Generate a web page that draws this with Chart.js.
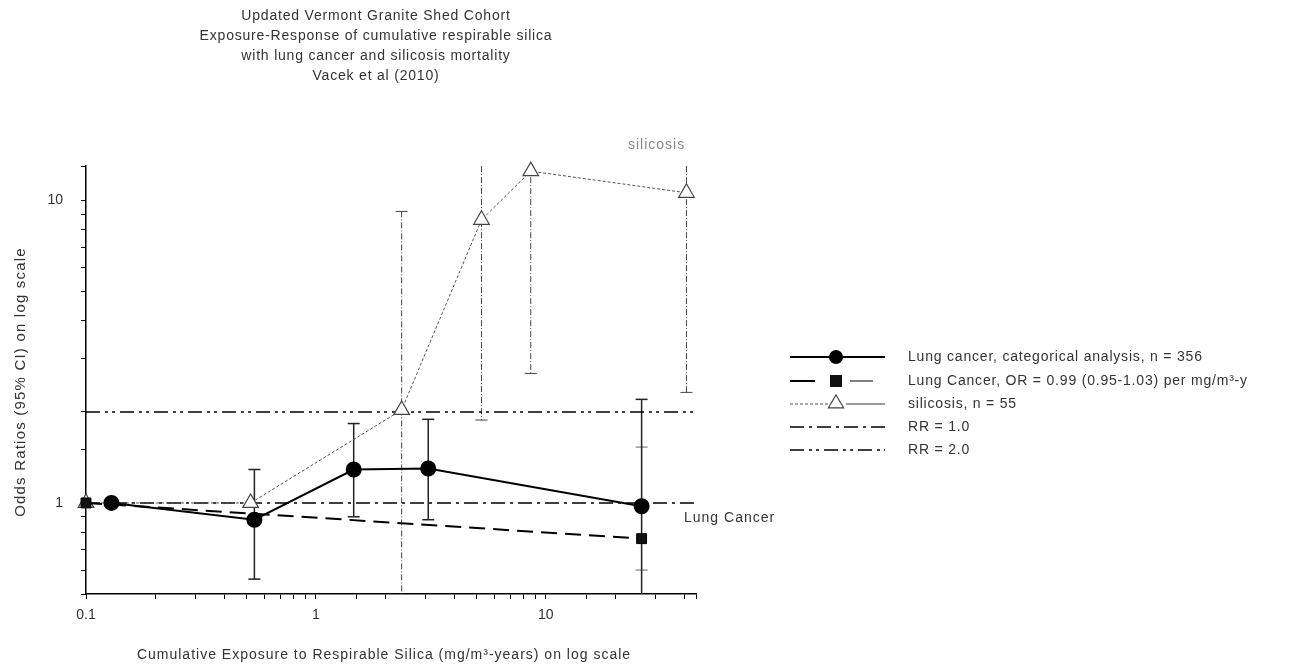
<!DOCTYPE html>
<html>
<head>
<meta charset="utf-8">
<script src="https://cdn.jsdelivr.net/npm/chart.js@4"></script>
<style>
html,body{margin:0;padding:0;background:#fff;}
#wrap{width:1307px;height:666px;}
</style>
</head>
<body>
<div id="wrap"><canvas id="c" width="1307" height="666"></canvas></div>
<script>
// ---- Data ----
const titleLines = ['Updated Vermont Granite Shed Cohort','Exposure-Response of cumulative respirable silica','with lung cancer and silicosis mortality','Vacek et al (2010)'];
const xTitle = 'Cumulative Exposure to Respirable Silica (mg/m\u00B3-years) on log scale';
const yTitle = 'Odds Ratios (95% CI) on log scale';
const xTickLabels = ['0.1','1','10'];
const yTickLabels = ['1','10'];

// Lung cancer, categorical analysis
const exposureLC = [0.129, 0.54, 1.46, 3.08, 26.1];
const orLC       = [1.0, 0.88, 1.29, 1.30, 0.975];
const lcLow      = [null, 0.56, 0.90, 0.88, 0.45];
const lcHigh     = [null, 1.29, 1.83, 1.89, 2.2];

// Lung cancer, continuous OR trend
const exposureJR = [0.1, 26.1];
const orJR       = [1.0, 0.762];
const jrLow      = [null, 0.60];
const jrHigh     = [null, 1.53];

// Silicosis
const exposureSil = [0.1, 0.52, 2.36, 5.25, 8.6, 40.9];
const orSil       = [1.0, 1.0, 2.03, 8.63, 12.5, 10.6];
const silLow      = [null, null, 0.40, 1.88, 2.68, 2.32];
const silHigh     = [null, null, 9.2, 30, 30, 30];

// Reference lines
const rrX  = [0.1, 45];
const rr1  = [1.0, 1.0];
const rr2  = [2.0, 2.0];

const legendLabels = ['Lung cancer, categorical analysis, n = 356','Lung Cancer, OR = 0.99 (0.95-1.03) per mg/m\u00B3-y','silicosis, n = 55','RR = 1.0','RR = 2.0'];

const toXY = (xs, ys) => xs.map((x, i) => ({x: x, y: ys[i]}));

const FONT = "'Liberation Sans', Arial, sans-serif";
const TXT = '#333';
Chart.defaults.font.family = FONT;
Chart.defaults.font.size = 14;
Chart.defaults.color = TXT;

const isDecade = v => Math.abs(Math.log10(v) - Math.round(Math.log10(v))) < 1e-6;

const styles = {
  lc:  {color:'#000', width:2, dash:[]},
  jr:  {color:'#000', width:2, dash:[16,8]},
  sil: {color:'#555', width:1, dash:[3,2]},
  rr1: {color:'#000', width:1.5, dash:[14,5,3,5]},
  rr2: {color:'#000', width:1.5, dash:[14,5,3,4,3,5]}
};

const errorBars = [
  {xs: exposureSil, lo: silLow, hi: silHigh, color:'#444', width:1, dash:[6,2,1,2]},
  {xs: exposureJR, lo: jrLow, hi: jrHigh, color:'#666', width:1, dash:[2,1]},
  {xs: exposureLC, lo: lcLow, hi: lcHigh, color:'#222', width:1.5, dash:[]}
];

function drawTriangle(ctx, x, y, r, stroke){
  ctx.save();
  ctx.setLineDash([]);
  ctx.beginPath();
  ctx.moveTo(x, y - r);
  ctx.lineTo(x + r*0.95, y + r*0.6);
  ctx.lineTo(x - r*0.95, y + r*0.6);
  ctx.closePath();
  ctx.fillStyle = '#fff';
  ctx.fill();
  ctx.strokeStyle = stroke; ctx.lineWidth = 1.2;
  ctx.stroke();
  ctx.restore();
}

function spaced(ctx, px){ try { ctx.letterSpacing = px + 'px'; } catch(e) {} }

const drawPlugin = {
  id: 'drawPlugin',
  beforeDatasetsDraw(chart){
    const {ctx, chartArea: a, scales:{x, y}} = chart;
    ctx.save();
    ctx.beginPath(); ctx.rect(a.left, a.top, a.right - a.left, a.bottom - a.top); ctx.clip();
    errorBars.forEach(eb => {
      ctx.strokeStyle = eb.color; ctx.lineWidth = eb.width; ctx.setLineDash(eb.dash);
      eb.xs.forEach((xv, i) => {
        if (eb.lo[i] == null) return;
        const px = x.getPixelForValue(xv);
        const pHi = y.getPixelForValue(eb.hi[i]);
        const pLo = y.getPixelForValue(eb.lo[i]);
        ctx.beginPath(); ctx.moveTo(px, pHi); ctx.lineTo(px, pLo); ctx.stroke();
        ctx.save(); ctx.setLineDash([]);
        [pHi, pLo].forEach(p => {
          if (p > a.top + 1 && p < a.bottom - 1) {
            ctx.beginPath(); ctx.moveTo(px - 6, p); ctx.lineTo(px + 6, p); ctx.stroke();
          }
        });
        ctx.restore();
      });
    });
    ctx.restore();
  },
  afterDraw(chart){
    const {ctx, chartArea: a} = chart;
    ctx.save();
    ctx.fillStyle = TXT;
    ctx.font = '14px ' + FONT;
    ctx.textAlign = 'center'; ctx.textBaseline = 'middle';
    spaced(ctx, 0.8);
    titleLines.forEach((t, i) => ctx.fillText(t, 376, 16 + i*20));
    spaced(ctx, 1);
    ctx.fillText(xTitle, 384, 655);
    // y axis title
    ctx.save();
    ctx.font = '15px ' + FONT;
    spaced(ctx, 1.2);
    ctx.translate(21, (a.top + a.bottom) / 2 + 2);
    ctx.rotate(-Math.PI / 2);
    ctx.fillText(yTitle, 0, 0);
    ctx.restore();
    // annotations
    ctx.textAlign = 'left';
    ctx.fillStyle = '#888';
    ctx.fillText('silicosis', 628, 145);
    ctx.fillStyle = TXT;
    ctx.fillText('Lung Cancer', 684, 518);
    // legend
    const rows = [357, 381, 404, 427, 450];
    const x0 = 790, x1 = 885, xm = 836;
    const seg = (xa, xb, yy, st, w) => {
      ctx.save(); ctx.strokeStyle = st.color; ctx.lineWidth = w || st.width; ctx.setLineDash(st.dash);
      ctx.beginPath(); ctx.moveTo(xa, yy); ctx.lineTo(xb, yy); ctx.stroke(); ctx.restore();
    };
    seg(x0, x1, rows[0], styles.lc);
    ctx.beginPath(); ctx.arc(xm, rows[0], 7, 0, Math.PI*2); ctx.fillStyle = '#000'; ctx.fill();
    seg(x0, 815, rows[1], {color:'#000', width:2, dash:[]});
    seg(850, 873, rows[1], {color:'#000', width:1, dash:[]});
    ctx.fillStyle = '#111'; ctx.fillRect(xm - 6, rows[1] - 6, 12, 12);
    seg(x0, 828, rows[2], styles.sil);
    seg(846, x1, rows[2], {color:'#333', width:1, dash:[]});
    drawTriangle(ctx, xm, rows[2] - 1, 8, '#444');
    seg(x0, x1, rows[3], styles.rr1);
    seg(x0, x1, rows[4], styles.rr2);
    ctx.fillStyle = TXT; ctx.textAlign = 'left'; ctx.textBaseline = 'middle';
    spaced(ctx, 0.8);
    legendLabels.forEach((t, i) => ctx.fillText(t, 908, rows[i]));
    ctx.restore();
  }
};

const mkDs = (label, data, st, extra) => Object.assign({
  label, data, showLine: true, clip: false,
  borderColor: st.color, borderWidth: st.width, borderDash: st.dash,
  pointRadius: 0, fill: false, tension: 0
}, extra || {});

new Chart(document.getElementById('c'), {
  type: 'scatter',
  data: {
    datasets: [
      mkDs(legendLabels[0], toXY(exposureLC, orLC), styles.lc, {pointRadius:7, pointStyle:'circle', pointBackgroundColor:'#000', pointBorderColor:'#000', order:0}),
      mkDs(legendLabels[1], toXY(exposureJR, orJR), styles.jr, {pointRadius:7, pointStyle:'rect', pointBackgroundColor:'#111', pointBorderColor:'#000', pointBorderWidth:1, order:1}),
      mkDs(legendLabels[2], toXY(exposureSil, orSil), styles.sil, {pointRadius:9, pointStyle:'triangle', pointBackgroundColor:'#fff', pointBorderColor:'#444', pointBorderWidth:1.2, order:2}),
      mkDs(legendLabels[3], toXY(rrX, rr1), styles.rr1, {order:3}),
      mkDs(legendLabels[4], toXY(rrX, rr2), styles.rr2, {order:4})
    ]
  },
  options: {
    responsive: false,
    animation: false,
    layout: {padding: {left: 10, top: 166, right: 611, bottom: 42}},
    plugins: {legend: {display: false}, tooltip: {enabled: false}, title: {display: false}},
    scales: {
      x: {
        type: 'logarithmic', min: 0.1, max: 45,
        grid: {display: true, drawOnChartArea: false, drawTicks: true, tickLength: 5, color: '#000', tickColor: '#000'},
        border: {display: true, color: '#000', width: 1.5},
        ticks: {autoSkip: false, maxRotation: 0, padding: 8, color: TXT, font: {size: 14},
          callback: (v) => { if (!isDecade(v)) return ''; const s = xTickLabels.find(l => Math.abs(parseFloat(l) - v) < 1e-9); return s || ''; }},
        afterFit: (s) => { s.height = 30; }
      },
      y: {
        type: 'logarithmic', min: 0.5, max: 13,
        grid: {display: true, drawOnChartArea: false, drawTicks: true, tickLength: 5, color: '#000', tickColor: '#000'},
        border: {display: true, color: '#000', width: 1.5},
        ticks: {autoSkip: false, padding: 18, color: TXT, font: {size: 14},
          callback: (v) => { if (!isDecade(v)) return ''; const s = yTickLabels.find(l => Math.abs(parseFloat(l) - v) < 1e-9); return s || ''; }},
        afterFit: (s) => { s.width = 76; }
      }
    }
  },
  plugins: [drawPlugin]
});
</script>
</body>
</html>
